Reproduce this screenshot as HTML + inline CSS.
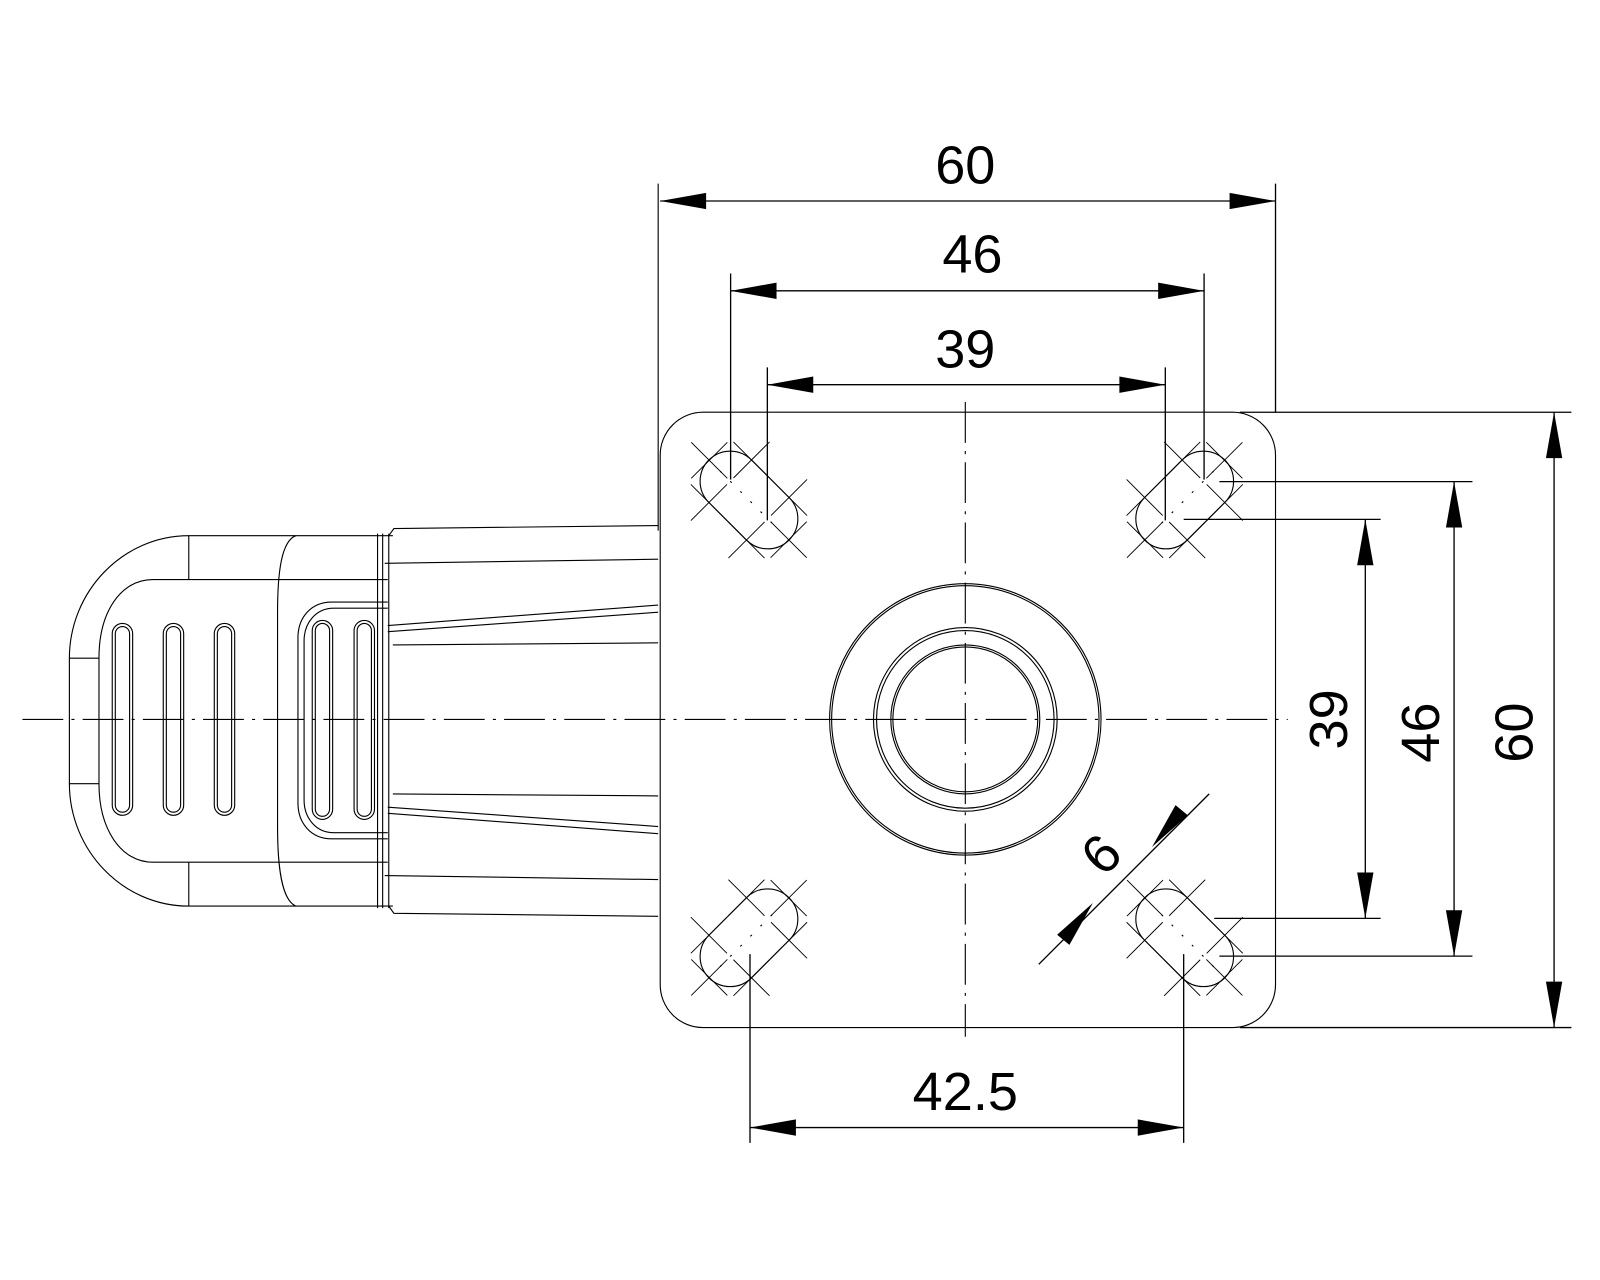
<!DOCTYPE html>
<html><head><meta charset="utf-8"><style>
html,body{margin:0;padding:0;background:#fff;}
svg{display:block;}
text{font-family:"Liberation Sans",sans-serif;fill:#000;}
</style></head><body>
<svg width="1600" height="1280" viewBox="0 0 1568 1254.4" xmlns="http://www.w3.org/2000/svg">
<g fill="none" stroke="#000" stroke-width="1.1">
<!-- centerlines -->
<line x1="22" y1="705" x2="1262" y2="705" stroke-dasharray="40,8,3,8"/>
<line x1="946" y1="394" x2="946" y2="1016" stroke-dasharray="40,8,3,8"/>

<!-- plate -->
<rect x="647" y="404" width="603" height="603" rx="42"/>

<!-- center boss -->
<circle cx="946" cy="705" r="133"/>
<circle cx="946" cy="705" r="131"/>
<circle cx="946" cy="705" r="90"/>
<circle cx="946" cy="705" r="87"/>
<circle cx="946" cy="705" r="73"/>
<circle cx="946" cy="705" r="71"/>

<!-- slots -->
<g id="s1" transform="translate(734,490) rotate(45)">
 <rect x="-55.5" y="-29.5" width="111" height="59" rx="29.5"/>
 <line x1="-40" y1="0" x2="40" y2="0" stroke-dasharray="2,12"/>
 <g stroke-width="0.9">
 <path d="M-80,0 h50 M-55,-25 v50"/>
 <path d="M-51,-29.5 h50 M-26,-54.5 v50"/>
 <path d="M-51,29.5 h50 M-26,4.5 v50"/>
 <path d="M30,0 h50 M55,-25 v50"/>
 <path d="M1,-29.5 h50 M26,-54.5 v50"/>
 <path d="M1,29.5 h50 M26,4.5 v50"/>
 </g>
</g>
<use href="#s1" transform="translate(1161,490) scale(-1,1) translate(-734,-490)"/>
<use href="#s1" transform="translate(734,919) scale(1,-1) translate(-734,-490)"/>
<use href="#s1" transform="translate(1161,919) scale(-1,-1) translate(-734,-490)"/>

<!-- left housing -->
<path d="M385,525 L185,525 C120,525 68,580 68,645 L68,768 C68,833 120,888 185,888 L385,888"/>
<path d="M380,568 L150,568 C118,568 97,600 97,645 L97,768 C97,812 118,845 150,845 L380,845"/>
<line x1="185" y1="525" x2="185" y2="568"/><line x1="185" y1="845" x2="185" y2="888"/>
<line x1="68" y1="645" x2="97" y2="645"/><line x1="68" y1="768" x2="97" y2="768"/>
<path d="M290,525 C276,530 272,560 272,600 L272,810 C272,850 276,882 290,888"/>
<rect x="110" y="611" width="20" height="188" rx="10"/><rect x="113" y="614" width="14" height="182" rx="7"/>
<rect x="160" y="611" width="20" height="188" rx="10"/><rect x="163" y="614" width="14" height="182" rx="7"/>
<rect x="210" y="611" width="20" height="188" rx="10"/><rect x="213" y="614" width="14" height="182" rx="7"/>
<path d="M380,590 L325,590 C305,590 292,605 292,625 L292,787 C292,807 305,822 325,822 L380,822"/>
<path d="M380,596 L327,596 C310,596 298,610 298,628 L298,784 C298,802 310,816 327,816 L380,816"/>
<rect x="306" y="608" width="20" height="195" rx="10"/><rect x="309" y="611" width="14" height="189" rx="7"/>
<rect x="347" y="608" width="20" height="195" rx="10"/><rect x="350" y="611" width="14" height="189" rx="7"/>
<line x1="370" y1="523" x2="370" y2="890"/><line x1="375" y1="523" x2="375" y2="890"/>
<line x1="381" y1="523" x2="381" y2="890"/>
<path d="M381,525 L386,518 L645,515 M381,888 L386,895 L645,898"/>
<line x1="377" y1="552" x2="645" y2="548"/><line x1="377" y1="858" x2="645" y2="862"/>
<line x1="380" y1="613" x2="645" y2="593"/><line x1="380" y1="619" x2="645" y2="600"/>
<line x1="385" y1="632" x2="645" y2="630"/>
<line x1="380" y1="797" x2="645" y2="817"/><line x1="380" y1="791" x2="645" y2="810"/>
<line x1="385" y1="778" x2="645" y2="780"/>
<line x1="645" y1="180" x2="645" y2="520"/>

<!-- dimension lines -->
<g stroke-width="1.3">
<line x1="647" y1="197" x2="1250" y2="197"/>
<line x1="1250" y1="180" x2="1250" y2="404"/>
<line x1="716" y1="285" x2="1180" y2="285"/>
<line x1="716" y1="268" x2="716" y2="470"/><line x1="1180" y1="268" x2="1180" y2="470"/>
<line x1="752" y1="377" x2="1142" y2="377"/>
<line x1="752" y1="360" x2="752" y2="510"/><line x1="1142" y1="360" x2="1142" y2="510"/>
<line x1="1523" y1="404" x2="1523" y2="1007"/>
<line x1="1215" y1="404" x2="1540" y2="404"/><line x1="1215" y1="1007" x2="1540" y2="1007"/>
<line x1="1425" y1="472" x2="1425" y2="937"/>
<line x1="1195" y1="472" x2="1443" y2="472"/><line x1="1195" y1="937" x2="1443" y2="937"/>
<line x1="1338" y1="509" x2="1338" y2="900"/>
<line x1="1160" y1="509" x2="1353" y2="509"/><line x1="1190" y1="900" x2="1353" y2="900"/>
<line x1="735" y1="1105" x2="1160" y2="1105"/>
<line x1="735" y1="935" x2="735" y2="1120"/><line x1="1160" y1="935" x2="1160" y2="1120"/>
<line x1="1018" y1="945" x2="1185" y2="778"/>
</g>
</g>
<!-- arrowheads -->
<g fill="#000">
<polygon points="647,197 692,189 692,205"/><polygon points="1250,197 1205,189 1205,205"/>
<polygon points="716,285 761,277 761,293"/><polygon points="1180,285 1135,277 1135,293"/>
<polygon points="752,377 797,369 797,385"/><polygon points="1142,377 1097,369 1097,385"/>
<polygon points="735,1105 780,1097 780,1113"/><polygon points="1160,1105 1115,1097 1115,1113"/>
<polygon points="1523,404 1515,449 1531,449"/><polygon points="1523,1007 1515,962 1531,962"/>
<polygon points="1425,472 1417,517 1433,517"/><polygon points="1425,937 1417,892 1433,892"/>
<polygon points="1338,509 1330,554 1346,554"/><polygon points="1338,900 1330,855 1346,855"/>
<polygon points="1129,830 1164,799 1152,789"/>
<polygon points="1071,885 1036,916 1048,926"/>
</g>
<g font-size="53">
<text x="946" y="180" text-anchor="middle">60</text>
<text x="953" y="267" text-anchor="middle">46</text>
<text x="946" y="360" text-anchor="middle">39</text>
<text x="946" y="1088" text-anchor="middle">42.5</text>
<text transform="translate(1320,705) rotate(-90)" text-anchor="middle">39</text>
<text transform="translate(1410,718) rotate(-90)" text-anchor="middle">46</text>
<text transform="translate(1502,718) rotate(-90)" text-anchor="middle">60</text>
<text transform="translate(1092,850) rotate(-45)" text-anchor="middle">6</text>
</g>
</svg>
</body></html>
